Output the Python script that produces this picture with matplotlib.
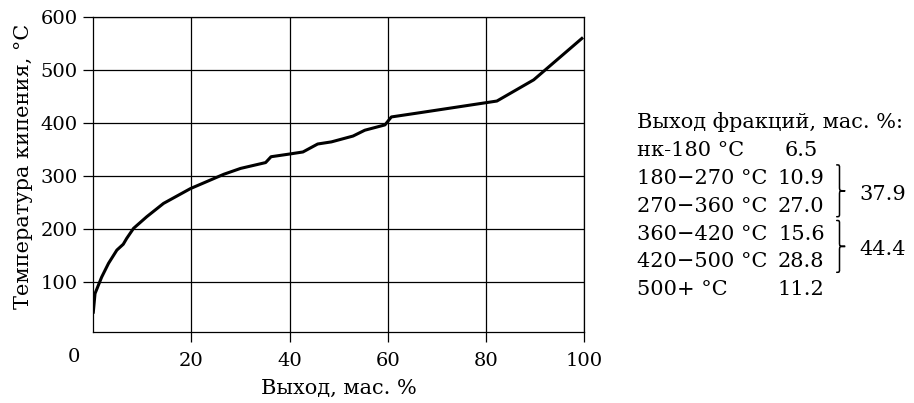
import matplotlib
matplotlib.use("Agg")
import matplotlib.pyplot as plt
from matplotlib.path import Path
from matplotlib.patches import PathPatch

# ---- data ----
yield_pct = [0.0, 0.35, 1.7, 3.1, 4.8, 6.1, 6.8, 8.2, 10.9, 14.3, 19.8, 26.6,
             30.0, 35.1, 36.2, 39.9, 42.7, 45.7, 48.5, 52.9, 55.3, 59.4, 60.7,
             66.5, 82.2, 89.7, 99.5]
boil_temp = [43, 78, 109, 135, 160, 171, 182, 201, 223, 248, 276, 303,
             314, 325, 336, 341, 345, 360, 364, 375, 386, 396, 411,
             419, 441, 481, 559]
x_ticks = [20, 40, 60, 80, 100]
y_ticks = [100, 200, 300, 400, 500, 600]

table_title = "Выход фракций, мас. %:"
fractions = ["нк-180 °C", "180−270 °C", "270−360 °C", "360−420 °C", "420−500 °C", "500+ °C"]
fraction_yields = ["6.5", "10.9", "27.0", "15.6", "28.8", "11.2"]
group_totals = ["37.9", "44.4"]
group_rows = [(1, 2), (3, 4)]

W, H = 914, 403
plt.rcParams["font.family"] = ["DejaVu Serif"]

fig = plt.figure(figsize=(W / 100, H / 100), dpi=100)
ax = fig.add_axes([93.3 / W, 1 - 332.3 / H, (584.3 - 93.3) / W, (332.3 - 16.7) / H])

ax.plot(yield_pct, boil_temp, color="black", lw=2.2, solid_joinstyle="round", zorder=3)
ax.set_xlim(0, 100)
ax.set_ylim(5, 600)
ax.set_xticks(x_ticks)
ax.set_yticks(y_ticks)
ax.grid(True, color="black", lw=0.9)
for s in ax.spines.values():
    s.set_linewidth(0.9)
ax.tick_params(axis="both", direction="out", length=7, width=0.9, labelsize=14)
ax.tick_params(axis="x", pad=7)
ax.tick_params(axis="y", pad=4.3)
ax.annotate("0", xy=(0, 0), xycoords="axes fraction", xytext=(-19, -24.5),
            textcoords="offset pixels", ha="center", va="center", fontsize=14)

ax.set_xlabel("Выход, мас. %", fontsize=15)
ax.xaxis.set_label_coords(0.5, -0.147)
ax.set_ylabel("Температура кипения, °С", fontsize=15)
ax.yaxis.set_label_coords(-0.122, 0.525)

def fy(py):
    return 1 - py / H

def fx(px):
    return px / W

fs = 15
x_left = 636.7
x_num = 801.3
base0 = 128.3
step = 27.8
fig.text(fx(x_left), fy(base0), table_title, fontsize=fs, ha="left", va="baseline")
for i, (name, val) in enumerate(zip(fractions, fraction_yields)):
    b = base0 + step * (i + 1)
    fig.text(fx(x_left), fy(b), name, fontsize=fs, ha="left", va="baseline")
    fig.text(fx(x_num), fy(b), val, fontsize=fs, ha="center", va="baseline")

def brace(x0, ytop, ybot):
    xv = x0 + 2.8
    xt = x0 + 8.5
    ym = (ytop + ybot) / 2
    r = 4.0
    pts = [(x0, ytop), (xv, ytop), (xv, ytop), (xv, ytop + r),
           (xv, ym - r),
           (xv, ym), (xv, ym), (xt, ym),
           (xv, ym), (xv, ym), (xv, ym + r),
           (xv, ybot - r),
           (xv, ybot), (xv, ybot), (x0, ybot)]
    codes = [Path.MOVETO, Path.CURVE4, Path.CURVE4, Path.CURVE4,
             Path.LINETO,
             Path.CURVE4, Path.CURVE4, Path.CURVE4,
             Path.CURVE4, Path.CURVE4, Path.CURVE4,
             Path.LINETO,
             Path.CURVE4, Path.CURVE4, Path.CURVE4]
    pts = [(fx(px), fy(py)) for px, py in pts]
    patch = PathPatch(Path(pts, codes), transform=fig.transFigure, fill=False,
                      lw=1.1, edgecolor="black", capstyle="round")
    fig.patches.append(patch)

for (r0, r1), tot in zip(group_rows, group_totals):
    ytop = base0 + step * (r0 + 1) - 19
    ybot = base0 + step * (r1 + 1) + 5
    brace(836.7, ytop, ybot)
    ym = (ytop + ybot) / 2
    fig.text(fx(859), fy(ym + 9), tot, fontsize=fs, ha="left", va="baseline")

fig.savefig("out.png", dpi=100)
